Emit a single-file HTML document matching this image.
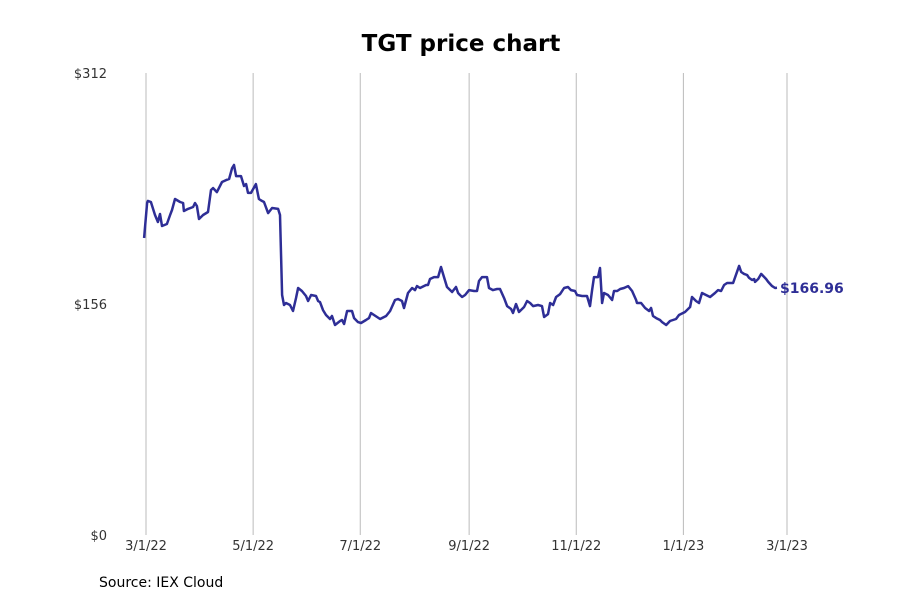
<!DOCTYPE html>
<html><head><meta charset="utf-8"><style>
body{margin:0;background:#fff;}
svg text{font-family:"DejaVu Sans","Liberation Sans",sans-serif;}
</style></head><body>
<svg width="900" height="600" xmlns="http://www.w3.org/2000/svg">
<text x="461" y="51" text-anchor="middle" font-size="23" font-weight="bold" fill="#000">TGT price chart</text>
<g id="grid"></g><g id="yaxis"></g><g id="xaxis"></g><g id="series"></g>
<text x="99" y="587" font-size="14" fill="#000">Source: IEX Cloud</text>
</svg>
<script>
const xTickLabels=["3/1/22","5/1/22","7/1/22","9/1/22","11/1/22","1/1/23","3/1/23"];
const xTickDays=[0,61,122,184,245,306,365];
const yTickValues=[0,156,312];
const yTickLabels=["$0","$156","$312"];
const days=[-1.1,0.6,1.1,2.8,5.1,6.8,8.0,9.1,11.9,13.7,14.8,16.5,19.4,21.1,21.6,23.9,26.8,27.9,29.0,30.2,32.5,35.3,37.0,38.2,40.4,43.3,45.6,47.3,49.0,50.1,51.3,54.1,55.8,57.0,58.1,59.8,62.6,64.3,66.0,67.2,69.5,71.8,75.2,76.3,77.5,78.6,79.7,82.0,83.7,85.4,86.6,88.8,91.1,92.3,94.0,96.8,98.0,99.1,100.8,102.5,104.8,105.9,107.6,110.5,111.6,112.8,114.5,117.3,118.5,120.7,122.4,125.3,127.0,128.1,129.8,133.3,136.7,139.0,141.8,143.5,145.8,146.9,149.2,151.5,153.2,154.3,156.0,159.5,160.6,161.7,164.0,166.3,168.0,169.7,171.4,174.3,176.5,177.7,178.8,180.0,181.7,184.0,186.8,188.5,189.6,191.3,194.2,195.3,197.6,199.9,201.6,203.9,205.6,207.9,209.0,210.7,212.4,215.3,217.0,218.7,220.4,223.2,225.5,226.7,228.9,230.1,231.8,233.5,235.8,238.1,240.3,242.0,244.3,245.4,248.3,251.1,252.8,254.0,255.1,257.4,258.5,259.7,260.8,263.1,265.4,266.5,268.3,270.0,272.2,274.5,276.8,279.1,279.6,281.9,284.2,286.5,287.6,288.7,290.5,292.7,293.9,296.2,298.4,301.8,303.5,306.9,309.8,310.9,313.2,314.9,316.6,318.9,321.2,324.0,325.7,327.5,329.2,330.9,334.3,337.7,338.9,340.6,342.3,343.4,345.1,346.3,346.8,348.6,350.3,353.1,354.3,356.5,358.2,359.3];
const prices=[200.6,224.2,225.6,224.9,216.1,211.4,216.8,208.7,210.0,216.1,219.5,226.9,224.9,224.2,218.8,220.2,221.5,224.2,222.2,213.4,216.1,218.1,233.0,234.3,231.6,238.4,239.7,240.4,247.8,249.9,242.4,242.4,235.7,237.0,231.0,231.0,237.0,226.9,225.6,224.9,217.4,220.8,220.2,216.1,162.1,155.3,156.7,155.3,151.3,160.0,166.8,164.8,161.4,158.0,162.1,161.4,158.0,157.3,151.9,148.6,145.9,147.9,141.8,144.5,145.2,142.5,151.3,151.3,146.5,143.8,143.2,145.2,146.5,149.9,148.6,145.9,147.9,151.3,158.7,159.4,158.0,153.3,163.4,166.8,165.4,168.1,166.8,168.8,168.8,172.9,174.2,174.2,181.0,174.2,167.5,164.1,167.5,163.4,162.1,160.7,162.1,165.4,164.8,164.8,171.5,174.2,174.2,166.8,165.4,166.1,166.1,160.0,154.6,152.6,149.9,156.0,150.6,154.0,158.0,156.7,154.6,155.3,154.6,147.2,149.2,156.7,155.3,160.7,162.7,166.8,167.5,165.4,164.8,162.1,161.4,161.4,154.6,165.4,174.2,174.2,180.3,156.7,163.4,162.1,158.7,164.8,164.8,166.1,166.8,168.1,164.8,158.7,156.7,156.7,153.3,151.3,153.3,147.9,146.5,145.2,143.8,141.8,144.5,145.9,148.6,150.6,154.0,160.7,158.0,156.7,163.4,162.1,160.7,163.4,165.4,164.8,168.8,170.2,170.2,181.7,177.6,176.3,175.6,173.6,172.2,172.9,170.9,172.9,176.3,172.9,170.9,168.1,166.8,166.96];
const lastLabel="$166.96";
const NS="http://www.w3.org/2000/svg";
function xScale(d){return 146+d*(787-146)/365;}
function yScale(v){return 535-v*(535-73)/312;}
function mk(t,a,p){const e=document.createElementNS(NS,t);for(const k in a)e.setAttribute(k,a[k]);p.appendChild(e);return e;}
const grid=document.getElementById('grid'),xa=document.getElementById('xaxis'),ya=document.getElementById('yaxis'),se=document.getElementById('series');
xTickDays.forEach((d,i)=>{
 const l=mk('line',{x1:xScale(d),x2:xScale(d),y1:73,y2:535,stroke:'#bbb','stroke-width':1},grid);
 
 
 const t=mk('text',{x:xScale(d),y:550,'text-anchor':'middle','font-size':13,fill:'#333'},xa);
 t.textContent=xTickLabels[i];
 
 
});
yTickValues.forEach((v,i)=>{
 const t=mk('text',{x:107,y:yScale(v)+5,'text-anchor':'end','font-size':13,fill:'#333'},ya);
 t.textContent=yTickLabels[i];
 
 
});
const pts=days.map((d,i)=>xScale(d).toFixed(1)+','+yScale(prices[i]).toFixed(1)).join(' ');
const pl=mk('polyline',{points:pts,fill:'none',stroke:'#2e2e96','stroke-width':2.5,'stroke-linejoin':'round'},se);


const n=days.length-1;
const lb=mk('text',{x:xScale(days[n])+3,y:yScale(prices[n])+5,'font-size':14,'font-weight':'bold',fill:'#2e2e96'},se);
lb.textContent=lastLabel;


</script>
</body></html>
